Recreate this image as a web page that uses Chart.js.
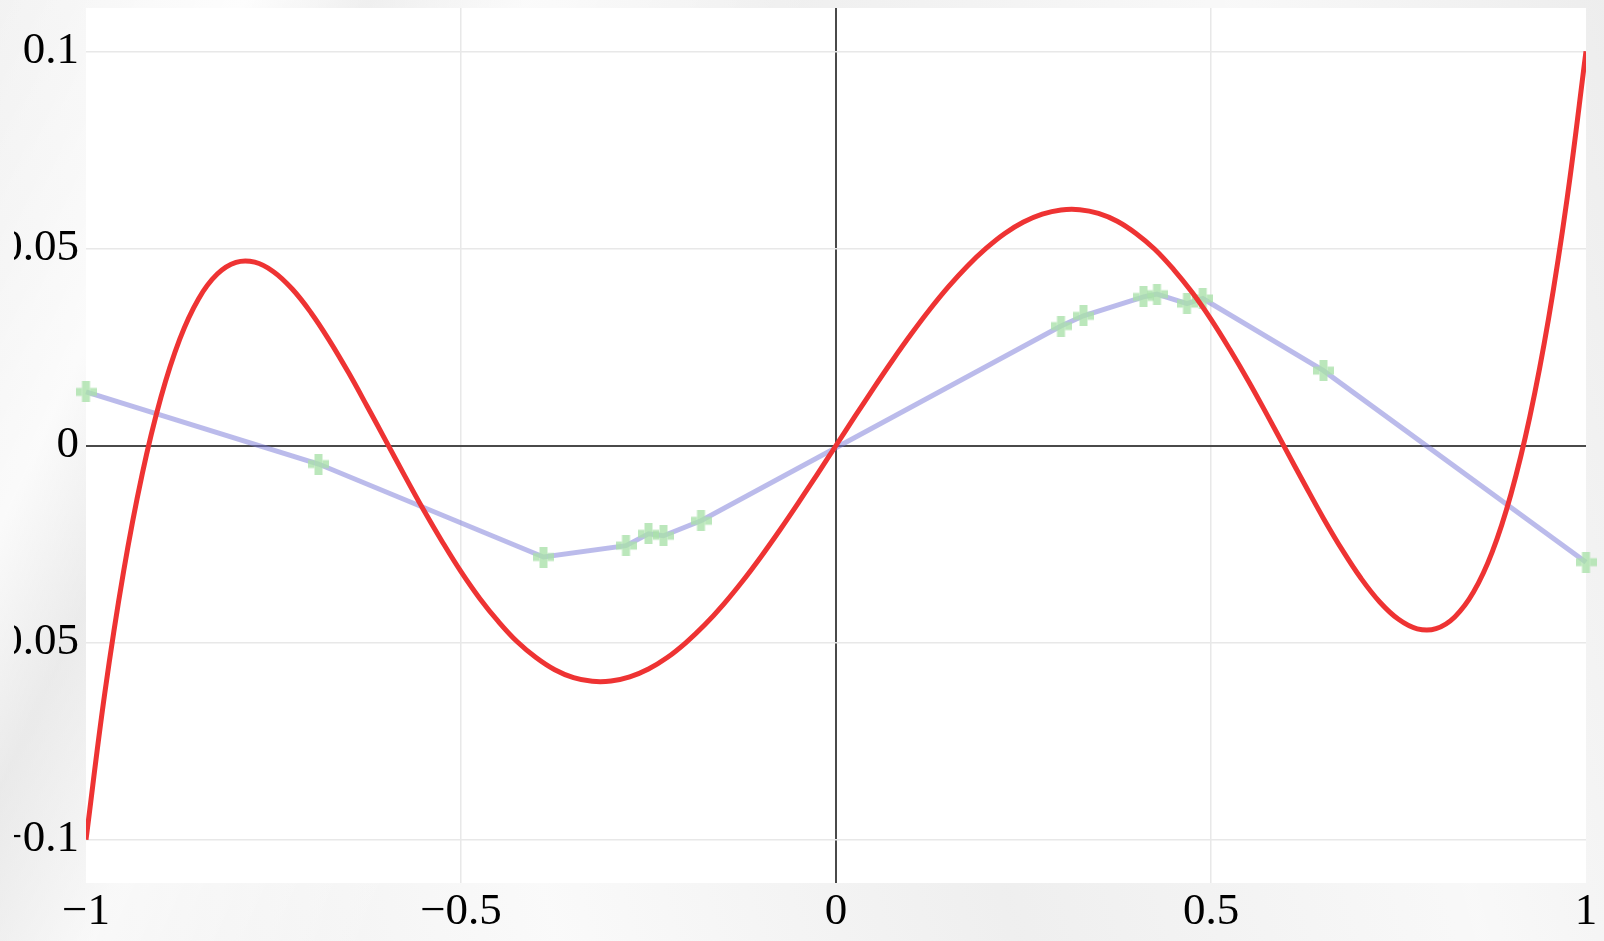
<!DOCTYPE html>
<html>
<head>
<meta charset="utf-8">
<script src="https://cdn.jsdelivr.net/npm/chart.js@4.4.1/dist/chart.umd.min.js"></script>
<style>
  html, body { margin: 0; padding: 0; }
  body {
    width: 1604px; height: 941px; overflow: hidden; position: relative;
    background-color: #f2f2f2;
    background-image:
      linear-gradient(115deg, rgba(255,255,255,0) 0%, rgba(255,255,255,0.7) 12%, rgba(230,230,230,0.5) 18%, rgba(255,255,255,0.6) 26%, rgba(255,255,255,0) 40%),
      linear-gradient(75deg, rgba(228,228,228,0.4) 0%, rgba(255,255,255,0.6) 30%, rgba(234,234,234,0.4) 55%, rgba(255,255,255,0.5) 80%, rgba(230,230,230,0.4) 100%);
  }
  #wrap { position: absolute; left: 14px; top: 0; width: 1590px; height: 941px; }
</style>
</head>
<body>
<div id="wrap"><canvas id="c"></canvas></div>
<script>
// Red smooth curve
const curveX = [-1, -0.975, -0.95, -0.925, -0.9, -0.875, -0.85, -0.825, -0.8, -0.775, -0.75, -0.725, -0.7, -0.675, -0.65, -0.625, -0.6, -0.575, -0.55, -0.525,
                -0.5, -0.475, -0.45, -0.425, -0.4, -0.375, -0.35, -0.325, -0.3, -0.275, -0.25, -0.225, -0.2, -0.175, -0.15, -0.125, -0.1, -0.075, -0.05, -0.025,
                0, 0.025, 0.05, 0.075, 0.1, 0.125, 0.15, 0.175, 0.2, 0.225, 0.25, 0.275, 0.3, 0.325, 0.35, 0.375, 0.4, 0.425, 0.45, 0.475,
                0.5, 0.525, 0.55, 0.575, 0.6, 0.625, 0.65, 0.675, 0.7, 0.725, 0.75, 0.775, 0.8, 0.825, 0.85, 0.875, 0.9, 0.925, 0.95, 0.975, 1];
const curveY = [-0.1, -0.0629, -0.0321, -0.0072, 0.0123, 0.0270, 0.0372, 0.0435, 0.04647, 0.04651, 0.0441, 0.0397, 0.0337, 0.0265, 0.0185, 0.0099, 0.0011, -0.0077, -0.0163, -0.0244,
                -0.0320, -0.0388, -0.0447, -0.0498, -0.0538, -0.0569, -0.0589, -0.05983, -0.05976, -0.0587, -0.0567, -0.0538, -0.0500, -0.0455, -0.0403, -0.0345, -0.0282, -0.0215, -0.0145, -0.0073,
                0, 0.0073, 0.0145, 0.0215, 0.0282, 0.0345, 0.0403, 0.0455, 0.0500, 0.0538, 0.0567, 0.0587, 0.05976, 0.05983, 0.0589, 0.0569, 0.0538, 0.0498, 0.0447, 0.0388,
                0.0320, 0.0244, 0.0163, 0.0077, -0.0011, -0.0099, -0.0185, -0.0265, -0.0337, -0.0397, -0.0441, -0.04651, -0.04647, -0.0435, -0.0372, -0.0270, -0.0123, 0.0072, 0.0321, 0.0629, 0.1];

// Blue polyline with green cross markers
const markerX = [-1, -0.69, -0.39, -0.28, -0.25, -0.23, -0.18, 0.30, 0.33, 0.41, 0.428, 0.468, 0.489, 0.65, 1];
const markerY = [0.0136, -0.0047, -0.0283, -0.0254, -0.0224, -0.0229, -0.0191, 0.0303, 0.0329, 0.0377, 0.0384, 0.0360, 0.0373, 0.0190, -0.0296];

const xTicks = [-1, -0.5, 0, 0.5, 1];
const yTicks = [-0.1, -0.05, 0, 0.05, 0.1];

const fmt = v => String(Number(Number(v).toFixed(4))).replace('-', '\u2212');

// plus-shaped marker image
const plus = document.createElement('canvas');
plus.width = 21; plus.height = 21;
(() => {
  const g = plus.getContext('2d');
  g.fillStyle = 'rgba(170,225,170,0.8)';
  g.fillRect(6.5, 0, 8, 21);
  g.fillRect(0, 6.5, 6.5, 8);
  g.fillRect(14.5, 6.5, 6.5, 8);
})();

const whiteArea = {
  id: 'whiteArea',
  beforeDraw(chart) {
    const {ctx, chartArea: a} = chart;
    ctx.save();
    ctx.fillStyle = '#ffffff';
    ctx.fillRect(a.left, a.top, a.right - a.left, a.bottom - a.top);
    ctx.restore();
  }
};

const isZero = ctx => ctx.tick && Math.abs(ctx.tick.value) < 1e-9;
const gridColor = ctx => isZero(ctx) ? '#4a4a4a' : '#e8e8e8';
const gridWidth = ctx => isZero(ctx) ? 2 : 1.5;

new Chart(document.getElementById('c'), {
  type: 'scatter',
  data: {
    datasets: [
      {
        data: curveX.map((x, i) => ({x, y: curveY[i]})),
        showLine: true,
        borderColor: '#ee3333',
        borderWidth: 5,
        pointRadius: 0,
        tension: 0.4,
        fill: false
      },
      {
        data: markerX.map((x, i) => ({x, y: markerY[i]})),
        showLine: true,
        borderColor: 'rgba(120,120,215,0.5)',
        borderWidth: 5,
        tension: 0,
        pointStyle: plus,
        pointRadius: 10,
        clip: false,
        fill: false
      }
    ]
  },
  options: {
    responsive: true,
    maintainAspectRatio: false,
    animation: false,
    devicePixelRatio: 1,
    layout: { autoPadding: false, padding: { top: 8, right: 18, bottom: 0, left: 0 } },
    plugins: { legend: { display: false }, tooltip: { enabled: false } },
    scales: {
      x: {
        type: 'linear',
        min: -1, max: 1,
        afterBuildTicks: s => { s.ticks = xTicks.map(v => ({value: v})); },
        afterFit: s => { s.height = 58; s.paddingLeft = 0; s.paddingRight = 0; },
        border: { display: false },
        grid: {
          drawTicks: false,
          color: ctx => (ctx.tick && Math.abs(Math.abs(ctx.tick.value) - 1) < 1e-9) ? 'rgba(0,0,0,0)' : gridColor(ctx),
          lineWidth: gridWidth
        },
        ticks: {
          padding: 2,
          color: '#000',
          font: { family: 'Liberation Serif', size: 45, lineHeight: 1.2 },
          maxRotation: 0,
          autoSkip: false,
          callback: v => fmt(v)
        }
      },
      y: {
        type: 'linear',
        min: -0.111, max: 0.111,
        afterBuildTicks: s => { s.ticks = yTicks.map(v => ({value: v})); },
        afterFit: s => { s.width = 72; s.paddingTop = 0; s.paddingBottom = 0; },
        border: { display: false },
        grid: {
          drawTicks: false,
          color: gridColor,
          lineWidth: gridWidth
        },
        ticks: {
          padding: 7,
          color: '#000',
          font: { family: 'Liberation Serif', size: 45, lineHeight: 1.2 },
          autoSkip: false,
          callback: v => fmt(v)
        }
      }
    }
  },
  plugins: [whiteArea]
});
</script>
</body>
</html>
